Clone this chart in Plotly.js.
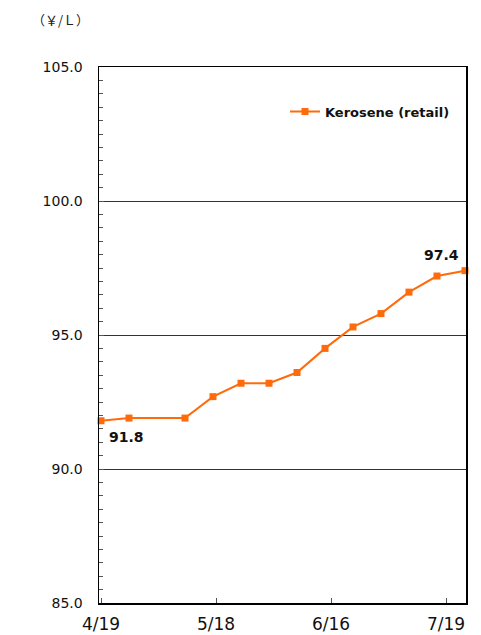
<!DOCTYPE html>
<html><head><meta charset="utf-8">
<script src="https://cdn.plot.ly/plotly-3.0.1.min.js"></script>
<style>body{margin:0;background:#fff}#c{width:481px;height:635px}</style>
</head><body><div id="c"></div>
<script>
// days since 4/19
const dayOffsets = [0, 7, 21, 28, 35, 42, 49, 56, 63, 70, 77, 84, 91];
const keroseneRetail = [91.8, 91.9, 91.9, 92.7, 93.2, 93.2, 93.6, 94.5, 95.3, 95.8, 96.6, 97.2, 97.4];
const tickPositions = [0, 28.75, 57.5, 86.25];
const tickLabels = ['4/19', '5/18', '6/16', '7/19'];
const yTicks = [85, 90, 95, 100, 105];
const yTickLabels = ['85.0', '90.0', '95.0', '100.0', '105.0'];
const orange = '#FF6A0A';
const font = 'DejaVu Sans, sans-serif';

const trace = {
  x: dayOffsets, y: keroseneRetail, type: 'scatter', mode: 'lines+markers',
  name: 'Kerosene (retail)',
  line: {color: orange, width: 2},
  marker: {color: orange, symbol: 'square', size: 7},
  cliponaxis: false
};
const layout = {
  width: 481, height: 635,
  margin: {l: 99, r: 15, t: 67, b: 32},
  paper_bgcolor: '#fff', plot_bgcolor: '#fff',
  font: {family: font, color: '#111', size: 14},
  showlegend: true,
  legend: {x: 0.97, y: 0.945, xanchor: 'right', yanchor: 'top',
    font: {family: font, size: 13, color: '#111', weight: 'bold'}, bgcolor: 'rgba(0,0,0,0)', itemwidth: 30},
  xaxis: {range: [-0.5, 91.25], tickvals: tickPositions, ticktext: tickLabels,
    ticks: 'inside', ticklen: 5, tickcolor: '#555', showgrid: false, zeroline: false,
    ticklabelstandoff: 5,
    showline: true, linecolor: '#000', linewidth: 1.5, mirror: true,
    tickfont: {family: font, size: 17, color: '#111'}},
  yaxis: {range: [85, 105], tickvals: yTicks, ticktext: yTickLabels,
    ticks: 'inside', ticklen: 5, tickcolor: '#555', ticklabelstandoff: 12,
    showgrid: true, gridcolor: '#333', gridwidth: 1, zeroline: false,
    showline: true, linecolor: '#000', linewidth: 1.5, mirror: true,
    minor: {dtick: 0.5, ticks: 'inside', ticklen: 4, tickcolor: '#555', showgrid: false},
    tickfont: {family: font, size: 14, color: '#111'}},
  annotations: [
    {x: dayOffsets[0], y: keroseneRetail[0], text: keroseneRetail[0].toFixed(1), showarrow: false,
      xanchor: 'left', yanchor: 'top', xshift: 6, yshift: -6, font: {family: font, size: 14, weight: 'bold', color: '#111'}},
    {x: dayOffsets[dayOffsets.length - 1], y: keroseneRetail[keroseneRetail.length - 1],
      text: keroseneRetail[keroseneRetail.length - 1].toFixed(1), showarrow: false,
      xanchor: 'right', yanchor: 'bottom', xshift: -4, yshift: 6, font: {family: font, size: 14, weight: 'bold', color: '#111'}},
    {xref: 'paper', yref: 'paper', x: -0.188, y: 1.0877, text: '（￥/Ｌ）', showarrow: false,
      xanchor: 'left', yanchor: 'middle', font: {family: 'Noto Sans CJK JP, sans-serif', size: 13, color: '#222'}}
  ]
};
Plotly.newPlot('c', [trace], layout, {displayModeBar: false, staticPlot: true});
</script></body></html>
